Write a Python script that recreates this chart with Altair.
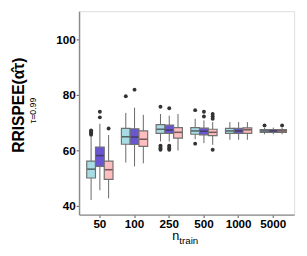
import altair as alt
import pandas as pd

groups = ["50", "100", "250", "500", "1000", "5000"]
methods = ["m1", "m2", "m3"]
colors = ["#A8DCE5", "#6A55D3", "#FFBDBF"]

# per group, per method: (lower whisker, q1, median, q3, upper whisker)
lo = [[42.1, 45.6, 42.7], [55.6, 54.2, 55.3], [63.2, 63.2, 59.9],
      [64.0, 62.6, 62.0], [63.8, 63.8, 63.8], [65.8, 65.8, 65.8]]
q1 = [[50.0, 54.2, 49.5], [62.2, 62.1, 61.4], [66.1, 66.1, 64.4],
      [65.8, 65.6, 65.3], [66.1, 66.1, 66.1], [66.5, 66.5, 66.5]]
med = [[53.2, 58.1, 53.0], [64.9, 64.8, 64.0], [67.6, 67.3, 66.5],
       [67.0, 66.9, 66.5], [67.0, 67.0, 67.4], [67.0, 67.0, 67.0]]
q3 = [[56.1, 61.2, 56.1], [67.9, 67.8, 67.0], [69.3, 69.1, 68.2],
      [68.2, 68.0, 67.6], [67.9, 67.9, 68.1], [67.5, 67.5, 67.5]]
hi = [[64.9, 69.6, 65.5], [73.5, 75.4, 72.8], [73.1, 72.5, 73.1],
      [71.4, 70.8, 70.2], [70.2, 70.2, 70.2], [68.2, 68.2, 68.2]]

out_group = ["50"] * 5 + ["50"] * 2 + ["50"] + ["100", "100"] + ["250"] * 10 + ["500"] * 8 + ["5000", "5000"]
out_method = (["m1"] * 5 + ["m2"] * 2 + ["m3"] + ["m1", "m2"]
              + ["m1"] * 5 + ["m2"] * 5
              + ["m1", "m1", "m2", "m2", "m3", "m3", "m3", "m3"]
              + ["m1", "m3"])
out_value = ([65.6, 66.0, 66.4, 66.8, 67.2] + [71.9, 73.9] + [67.9] + [79.5, 81.9]
             + [75.7, 60.2, 60.7, 61.2, 61.7] + [75.2, 60.2, 60.7, 61.2, 61.7]
             + [74.5, 62.4, 72.2, 73.9, 71.4, 72.2, 73.1, 60.2]
             + [69.0, 69.0])

rows = []
for gi, g in enumerate(groups):
    for mi, m in enumerate(methods):
        rows.append(dict(n=g, method=m, lo=lo[gi][mi], q1=q1[gi][mi],
                         med=med[gi][mi], q3=q3[gi][mi], hi=hi[gi][mi]))
box_df = pd.DataFrame(rows)
out_df = pd.DataFrame(dict(n=out_group, method=out_method, value=out_value))

FONT = "Liberation Sans"
ydom = [36.8, 110.2]

xenc = alt.X("n:N", sort=groups,
             scale=alt.Scale(type="band", paddingInner=0, paddingOuter=0.1),
             axis=alt.Axis(title=None, labelFont=FONT, labelFontWeight="bold",
                           labelFontSize=12, labelColor="#000", labelAngle=0,
                           tickColor="#555", tickSize=3, labelPadding=1,
                           domainColor="#8a8a8a", domainWidth=1.5))
xoff = alt.XOffset("method:N", sort=methods,
                   scale=alt.Scale(paddingInner=0, paddingOuter=0.48))
yscale = alt.Scale(domain=ydom, nice=False, zero=False)
yaxis = alt.Axis(title="RRISPEE(\u03b1\u0302\u03c4)", values=[40, 60, 80, 100],
                 titleFont=FONT, titleFontSize=16, titleFontWeight="bold",
                 titleColor="#000", titlePadding=30, titleY=96,
                 labelFont=FONT, labelFontWeight="bold", labelFontSize=12,
                 labelColor="#000", tickColor="#555", tickSize=3, labelPadding=1,
                 domainColor="#8a8a8a", domainWidth=1.5, grid=False)
cscale = alt.Scale(domain=methods, range=colors)

base = alt.Chart(box_df)

whisk = base.mark_rule(color="#666", strokeWidth=1).encode(
    x=xenc, xOffset=xoff,
    y=alt.Y("lo:Q", scale=yscale, axis=yaxis), y2="hi:Q")

boxes = base.mark_bar(stroke="#707070", strokeWidth=1.2).encode(
    x=xenc, xOffset=xoff,
    y=alt.Y("q1:Q", scale=yscale), y2="q3:Q",
    fill=alt.Fill("method:N", scale=cscale, legend=None))

medians = base.mark_tick(color="#333", thickness=1.6, size=8).encode(
    x=xenc, xOffset=xoff, y=alt.Y("med:Q", scale=yscale))

outliers = alt.Chart(out_df).mark_point(filled=True, color="#333", size=16, opacity=1).encode(
    x=xenc, xOffset=xoff, y=alt.Y("value:Q", scale=yscale))

ann = pd.DataFrame(dict(t=["\u03c4=0.99"]))
sub = alt.Chart(ann).mark_text(font=FONT, fontSize=9, angle=270, color="#000").encode(
    x=alt.value(-47), y=alt.value(102), text="t:N")
ann_n = alt.Chart(pd.DataFrame(dict(t=["n"]))).mark_text(
    font=FONT, fontSize=13, align="right", baseline="alphabetic", color="#000").encode(
    x=alt.value(103), y=alt.value(235), text="t:N")
ann_train = alt.Chart(pd.DataFrame(dict(t=["train"]))).mark_text(
    font=FONT, fontSize=10, align="left", baseline="alphabetic", color="#000").encode(
    x=alt.value(103), y=alt.value(239), text="t:N")

chart = alt.layer(whisk, boxes, medians, outliers, sub, ann_n, ann_train).properties(
    width=221, height=209,
    autosize=alt.AutoSizeParams(type="none"),
    padding={"left": 73, "top": 0, "right": 5, "bottom": 31},
).configure_view(stroke="#333", strokeWidth=1).configure(background="white")

chart.save("out.html", embed_options={"renderer": "svg", "actions": False})
